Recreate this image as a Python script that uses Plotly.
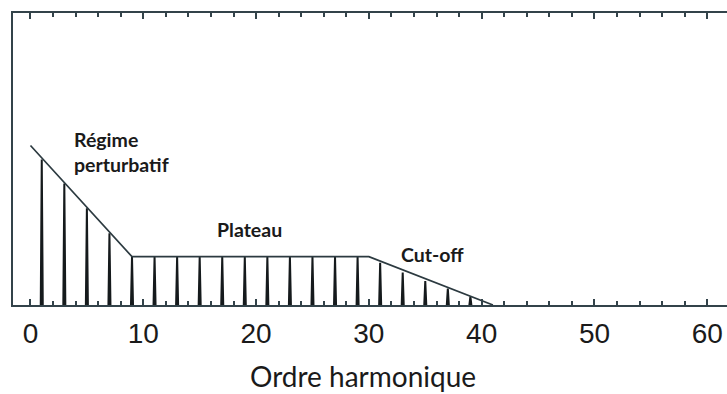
import plotly.graph_objects as go

# Data
harmonics = [1, 3, 5, 7, 9, 11, 13, 15, 17, 19, 21, 23, 25, 27, 29, 31, 33, 35, 37, 39]
amplitudes = [146, 122, 97, 72, 48.5, 48.5, 48.5, 48.5, 48.5, 48.5, 48.5, 48.5, 48.5,
              48.5, 48.5, 42.5, 32.5, 24, 16.5, 8.5]
envelope_x = [0, 9, 30, 41]
envelope_y = [160, 48.5, 48.5, 0]
tick_vals = [0, 10, 20, 30, 40, 50, 60]
tick_text = ["0", "10", "20", "30", "40", "50", "60"]
labels = ["Régime<br>perturbatif", "Plateau", "Cut-off"]
label_x = [3.65, 19.46, 35.6]
label_y = [154, 75.5, 50.5]
x_title = "Ordre harmonique"

half_width = 0.09
px, py = [], []
for h, a in zip(harmonics, amplitudes):
    px += [h - half_width, h, h + half_width, None]
    py += [0, a, 0, None]

fig = go.Figure()
fig.add_trace(go.Scatter(x=px, y=py, mode="lines",
                         line=dict(color="#151a1c", width=2),
                         hoverinfo="skip", showlegend=False))
fig.add_trace(go.Scatter(x=envelope_x, y=envelope_y, mode="lines",
                         line=dict(color="#2c3a40", width=1.7),
                         hoverinfo="skip", showlegend=False))

for t, x, y in zip(labels, label_x, label_y):
    fig.add_annotation(x=x, y=y, xref="x", yref="y", text=f"<b>{t}</b>",
                       showarrow=False, xanchor="left" if "Régime" in t else "center",
                       align="left",
                       font=dict(family="Lato", size=19.5, color="#1a1a1a"))

fig.add_annotation(x=29.5, y=-0.244, xref="x", yref="paper", text=x_title,
                   showarrow=False, yanchor="middle",
                   font=dict(family="Lato", size=28, color="#1a1a1a"))

axis_color = "#33434a"
fig.update_xaxes(range=[-1.55, 61.75], tickvals=tick_vals, ticktext=tick_text,
                 ticks="inside", ticklen=6, tickwidth=1.5, tickcolor=axis_color,
                 minor=dict(dtick=2, ticks="inside", ticklen=4, tickwidth=1.5,
                            tickcolor=axis_color),
                 showline=True, linecolor=axis_color, linewidth=2, mirror="ticks",
                 showgrid=False, zeroline=False,
                 tickfont=dict(family="Liberation Sans", size=28, color="#1a1a1a"),
                 ticklabelstandoff=2)
fig.update_yaxes(range=[0, 293], showline=True, linecolor=axis_color, linewidth=2,
                 showticklabels=False, ticks="", showgrid=False, zeroline=False)

fig.update_layout(width=727, height=394,
                  margin=dict(l=13, r=0, t=12.5, b=88.5),
                  plot_bgcolor="white", paper_bgcolor="white")

fig.write_html("out.html", config={"displayModeBar": False},
               post_script="document.body.style.margin='0';"
                           "document.body.style.overflow='hidden';")
